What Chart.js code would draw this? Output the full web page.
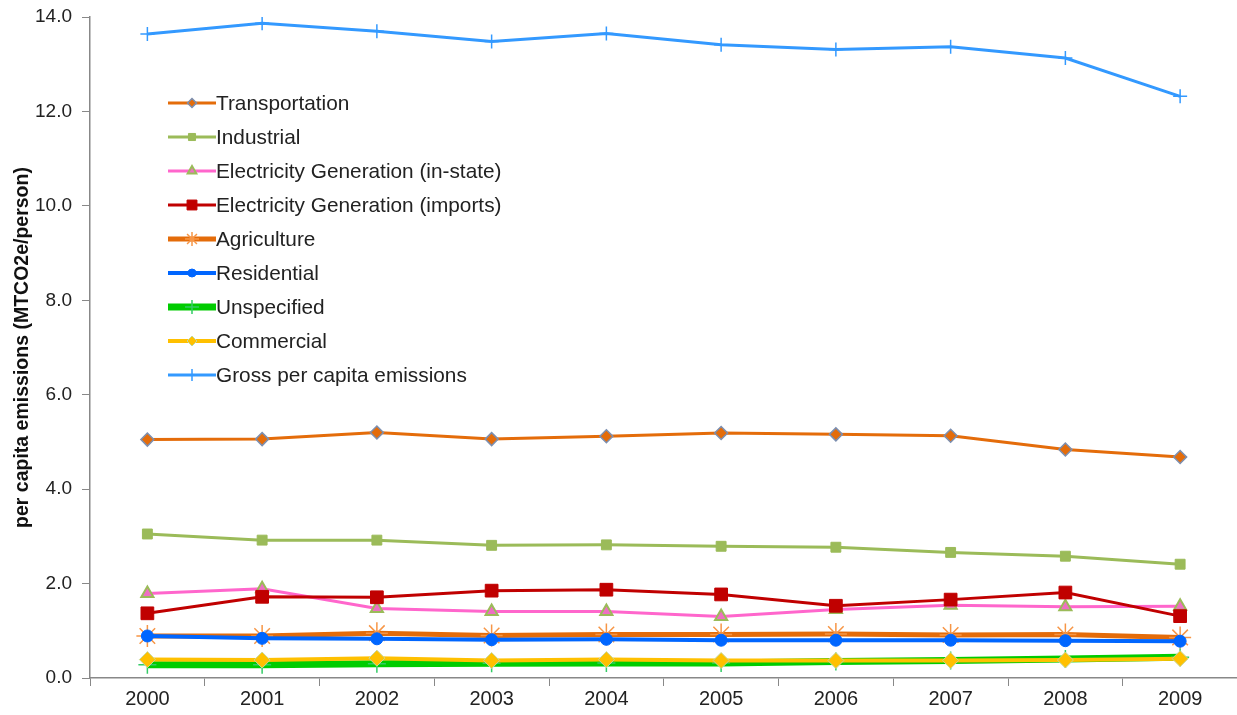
<!DOCTYPE html>
<html>
<head>
<meta charset="utf-8">
<script src="https://cdn.jsdelivr.net/npm/chart.js@4.4.1/dist/chart.umd.min.js"></script>
<style>
  html, body { margin: 0; padding: 0; background: #fff; overflow: hidden; }
  /* a little wider than the window: chart.js keeps a small right gutter */
  #wrap { width: 1250px; height: 715px; position: relative; }
  #chart { display: block; }
</style>
</head>
<body>
<div id="wrap"><canvas id="chart"></canvas></div>
<script>
const years = ["2000", "2001", "2002", "2003", "2004", "2005", "2006", "2007", "2008", "2009"];
const yTicks = [0, 2, 4, 6, 8, 10, 12, 14];

const transportation = [5.05, 5.06, 5.20, 5.06, 5.12, 5.19, 5.16, 5.13, 4.84, 4.68];
const industrial     = [3.05, 2.92, 2.92, 2.81, 2.82, 2.79, 2.77, 2.66, 2.58, 2.41];
const elecInState    = [1.79, 1.89, 1.47, 1.41, 1.41, 1.30, 1.45, 1.54, 1.51, 1.52];
const elecImports    = [1.37, 1.72, 1.71, 1.85, 1.87, 1.77, 1.53, 1.66, 1.81, 1.31];
const agriculture    = [0.89, 0.89, 0.95, 0.90, 0.92, 0.92, 0.93, 0.91, 0.92, 0.86];
const residential    = [0.89, 0.84, 0.83, 0.81, 0.82, 0.80, 0.80, 0.80, 0.79, 0.78];
const unspecified    = [0.28, 0.28, 0.30, 0.31, 0.32, 0.32, 0.35, 0.37, 0.40, 0.44];
const commercial     = [0.39, 0.38, 0.42, 0.37, 0.39, 0.37, 0.37, 0.37, 0.38, 0.41];
const grossPerCapita = [13.64, 13.87, 13.70, 13.48, 13.65, 13.41, 13.31, 13.37, 13.13, 12.32];

const FONT = "'Liberation Sans', Arial, sans-serif";

function series(label, data, line, width, style, radius, fill, border, borderW, legendR, order) {
  return {
    label: label,
    data: data,
    borderColor: line,
    borderWidth: width,
    pointStyle: style,
    pointRadius: radius,
    pointBackgroundColor: fill,
    pointBorderColor: border,
    pointBorderWidth: borderW,
    tension: 0,
    fill: false,
    order: order,
    legendR: legendR
  };
}

// order: lower number is drawn on top
const datasets = [
  series("Transportation", transportation, "#E46C0A", 3, "rectRot", 6.5, "#E46C0A", "#7C8FB0", 1.5, 4.5, 0),
  series("Industrial", industrial, "#9BBB59", 3, "rect", 7, "#9BBB59", "#9BBB59", 1, 5, 0),
  series("Electricity Generation (in-state)", elecInState, "#FF66CC", 3, "triangle", 7, "#EE6FC3", "#9BBB59", 2, 5, 1),
  series("Electricity Generation (imports)", elecImports, "#C00000", 3, "rect", 9, "#C00000", "#C00000", 1, 7, 0),
  series("Agriculture", agriculture, "#E46C0A", 5, "star", 11, "#F79646", "#F79646", 1.5, 7, 2),
  series("Residential", residential, "#0066FF", 4, "circle", 6, "#0066FF", "#0066FF", 1, 4, 1),
  series("Unspecified", unspecified, "#00CC00", 7, "cross", 9, "#33CC66", "#33CC66", 1.5, 7, 2),
  series("Commercial", commercial, "#FFC000", 4, "rectRot", 8, "#FFC000", "#C4D79B", 1, 5, 1),
  series("Gross per capita emissions", grossPerCapita, "#3399FF", 3, "cross", 7, "#3399FF", "#3399FF", 1.5, 6, 0)
];

// legend drawn inside the plot, line + marker like the original
const insideLegend = {
  id: "insideLegend",
  afterDraw(chart) {
    const ctx = chart.ctx;
    const x0 = 168, y0 = 103, rowH = 34, lineW = 48;
    ctx.save();
    ctx.font = "20.8px " + FONT;
    ctx.textBaseline = "middle";
    chart.data.datasets.forEach((ds, i) => {
      const y = y0 + i * rowH;
      ctx.strokeStyle = ds.borderColor;
      ctx.lineWidth = ds.borderWidth;
      ctx.beginPath();
      ctx.moveTo(x0, y);
      ctx.lineTo(x0 + lineW, y);
      ctx.stroke();
      ctx.fillStyle = ds.pointBackgroundColor;
      ctx.strokeStyle = ds.pointBorderColor;
      ctx.lineWidth = ds.pointBorderWidth;
      Chart.helpers.drawPoint(ctx, {
        pointStyle: ds.pointStyle,
        radius: ds.legendR,
        rotation: 0,
        borderWidth: ds.pointBorderWidth
      }, x0 + lineW / 2, y);
      ctx.fillStyle = "#222";
      ctx.fillText(ds.label, x0 + lineW, y + 1);
    });
    ctx.restore();
  }
};

new Chart(document.getElementById("chart"), {
  type: "line",
  data: { labels: years, datasets: datasets },
  options: {
    responsive: true,
    maintainAspectRatio: false,
    animation: false,
    layout: { padding: { top: 17, right: 0, left: 0, bottom: 0 } },
    plugins: {
      legend: { display: false },
      tooltip: { enabled: false }
    },
    scales: {
      x: {
        offset: true,
        grid: { display: true, drawOnChartArea: false, drawTicks: true, tickLength: 8, color: "#888", offset: true },
        border: { display: true, color: "#888", width: 1.5 },
        ticks: { color: "#222", font: { family: FONT, size: 20 }, padding: 1, maxRotation: 0 },
        afterFit(scale) {
          scale.height = 37;
          scale.paddingLeft = 0;
          scale.paddingRight = 0;
        }
      },
      y: {
        min: 0,
        max: 14,
        afterBuildTicks(scale) { scale.ticks = yTicks.map(v => ({ value: v })); },
        grid: { display: true, drawOnChartArea: false, drawTicks: true, tickLength: 8, color: "#888" },
        border: { display: true, color: "#888", width: 1.5 },
        ticks: {
          color: "#222",
          font: { family: FONT, size: 19 },
          padding: 10,
          callback: v => Number(v).toFixed(1)
        },
        title: {
          display: true,
          text: "per capita emissions (MTCO2e/person)",
          color: "#111",
          font: { family: FONT, size: 19.5, weight: "bold" },
          padding: { top: 11, bottom: 0 }
        },
        afterFit(scale) {
          scale.width = 90;
          scale.paddingTop = 0;
          scale.paddingBottom = 0;
        }
      }
    }
  },
  plugins: [insideLegend]
});
</script>
</body>
</html>
